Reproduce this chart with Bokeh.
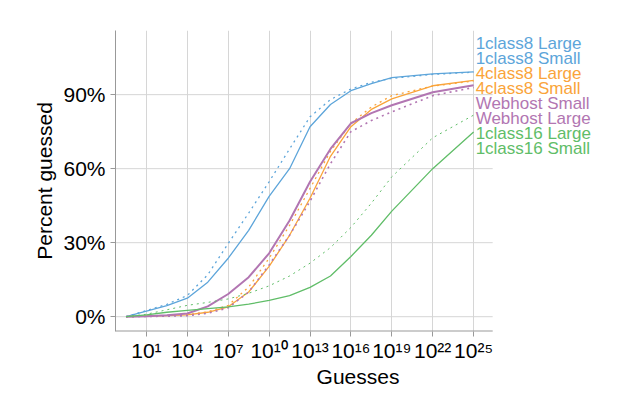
from bokeh.plotting import figure
from bokeh.models import Label, FixedTicker
from bokeh.embed import file_html
from bokeh.resources import INLINE

# x in log10(guesses)
xs = [-0.5, 1, 2.5, 4, 5.5, 7, 8.5, 10, 11.5, 13, 14.5, 16, 17.5, 19, 22, 25]
c1_large = [0, 2.3, 4.5, 7.5, 14, 23.7, 35, 48.8, 60, 77, 86, 91.6, 94.5, 96.9, 98.4, 99.2]
c1_small = [0, 2.5, 5, 8.6, 17, 29.7, 42, 54.7, 68, 81, 88, 92.3, 95, 96.6, 98.2, 99.1]
c4_large = [0, 0.2, 0.4, 0.7, 1.8, 4.0, 10, 20.4, 33, 48, 65, 77, 84, 88.3, 93.6, 95.8]
c4_small = [0, 0.2, 0.5, 0.8, 2.0, 4.6, 12, 23.7, 37, 52, 67, 78.4, 85, 89.6, 93.5, 95.5]
wh_small = [0, 0.2, 0.6, 1.3, 4.2, 9.2, 16, 25.7, 39, 54.7, 68, 78.4, 82.5, 85.7, 91.0, 93.8]
wh_large = [0, 0.1, 0.2, 0.4, 1.4, 3.6, 10, 21.0, 33, 46.8, 62, 75, 79.5, 83, 89.6, 92.9]
c16_large = [0, 0.7, 1.8, 2.6, 3.3, 4.0, 5.1, 6.6, 8.5, 11.9, 16.5, 24.4, 33, 42.8, 60, 74.9]
c16_small = [0, 1.0, 2.8, 4.6, 5.8, 7.2, 9.5, 12.5, 16.5, 21.7, 28, 36.2, 46, 56.7, 72.5, 81.7]

names = ["1class8 Large", "1class8 Small", "4class8 Large", "4class8 Small",
         "Webhost Small", "Webhost Large", "1class16 Large", "1class16 Small"]
series = [c1_large, c1_small, c4_large, c4_small, wh_small, wh_large, c16_large, c16_small]
colors = ["#5DA5DA", "#5DA5DA", "#FAA43A", "#FAA43A", "#B276B2", "#B276B2", "#60BD68", "#60BD68"]
dashes = ["solid", "dotted", "solid", "dotted", "solid", "dotted", "solid", "dotted"]
widths = [1.3, 1.3, 1.3, 1.3, 2, 1.6, 1.3, 1.0]

x_ticks = [1, 4, 7, 10, 13, 16, 19, 22, 25]
sup = str.maketrans("0123456789", "⁰¹²³⁴⁵⁶⁷⁸⁹")
x_labels = {t: "10" + str(t).translate(sup) for t in x_ticks}
y_ticks = [0, 30, 60, 90]

x0, x1 = -1.27, 26.4
y0, y1 = -6, 116

p = figure(width=600, height=390, output_backend="svg", toolbar_location=None, tools="",
           x_range=(x0, 34.31), y_range=(y0, y1),
           min_border_left=115, min_border_right=0, min_border_top=30, min_border_bottom=50)
p.outline_line_color = None

# grid limited to the data panel
p.ygrid.grid_line_color = None
p.xgrid.grid_line_color = "#d6d6d6"
p.segment(x0=[x0] * len(y_ticks), x1=[x1] * len(y_ticks), y0=y_ticks, y1=y_ticks,
          line_color="#d6d6d6", line_width=1)
p.segment(x0=[x0], x1=[x1], y0=[y0], y1=[y0], line_color="#999999", line_width=2)

for ys, c, d, w in zip(series, colors, dashes, widths):
    p.line(xs, ys, line_color=c, line_dash=d, line_width=w)

p.xaxis.ticker = FixedTicker(ticks=x_ticks)
p.xaxis.major_label_overrides = x_labels
p.yaxis.ticker = FixedTicker(ticks=y_ticks)
p.yaxis.major_label_overrides = {t: f"{t}%" for t in y_ticks}
p.xaxis.axis_label = "Guesses"
p.yaxis.axis_label = "Percent guessed"
for ax in (p.xaxis, p.yaxis):
    ax.major_label_text_font = "Liberation Sans"
    ax.major_label_text_font_size = "21px"
    ax.major_label_text_color = "black"
    ax.axis_label_text_font = "Liberation Sans"
    ax.axis_label_text_font_size = "21px"
    ax.axis_label_text_font_style = "normal"
    ax.axis_label_text_color = "black"
    ax.axis_line_color = "#999999"
    ax.major_tick_line_color = "#999999"
    ax.minor_tick_line_color = None
    ax.major_tick_in = 0
    ax.major_tick_out = 5
p.xaxis.axis_line_color = None
p.xaxis.axis_label_standoff = 0
p.xaxis.major_label_standoff = 2
p.yaxis.axis_label_standoff = 4

for i, (n, c) in enumerate(zip(names, colors)):
    p.add_layout(Label(x=25.15, y=110.9 - i * 6.1, text=n, text_color=c,
                       text_font="Liberation Sans", text_font_size="17px",
                       text_baseline="middle"))

open("out.html", "w").write(file_html(p, INLINE))
